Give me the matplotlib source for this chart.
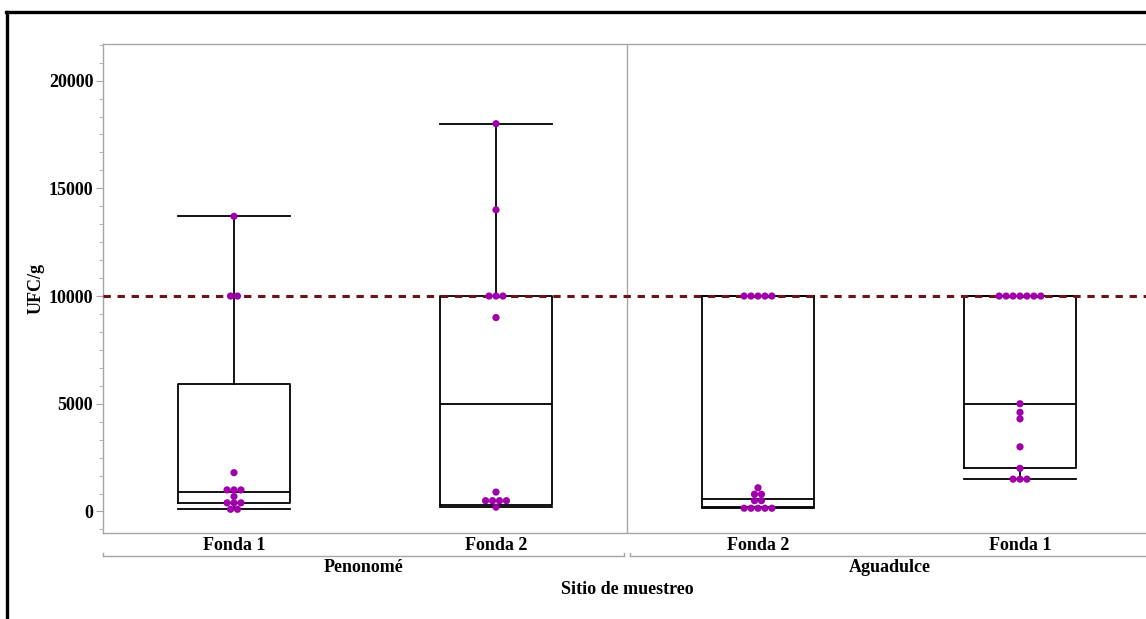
import matplotlib
matplotlib.use("Agg")
import matplotlib.pyplot as plt
from matplotlib.lines import Line2D
from matplotlib.ticker import MultipleLocator
import numpy as np

# datos (UFC/g)
sitios = ["Fonda 1", "Fonda 2", "Fonda 2", "Fonda 1"]
grupos = ["Penonomé", "Aguadulce"]
pen_f1 = [100, 100, 400, 400, 400, 700, 1000, 1000, 1000, 1800, 10000, 10000, 13700]
pen_f2 = [200, 500, 500, 500, 500, 900, 9000, 10000, 10000, 10000, 14000, 18000]
agu_f2 = [150, 150, 150, 150, 150, 500, 500, 800, 800, 1100,
          10000, 10000, 10000, 10000, 10000]
agu_f1 = [1500, 1500, 1500, 2000, 3000, 4300, 4600, 5000,
          10000, 10000, 10000, 10000, 10000, 10000, 10000]
puntos = [pen_f1, pen_f2, agu_f2, agu_f1]

# cuantiles como los dibuja el grafico original
q1 = [370, 300, 200, 2000]
mediana = [900, 5000, 600, 5000]
q3 = [5900, 10000, 10000, 10000]
bigote_inf = [130, 200, 150, 1500]
bigote_sup = [13700, 18000, 10000, 10000]
limite = 10000

plt.rcParams['font.family'] = ['Liberation Serif', 'DejaVu Serif']
plt.rcParams['font.weight'] = 'bold'

fig = plt.figure(figsize=(11.46, 6.19), dpi=100)
W, H = 1146, 619
ax = fig.add_axes([103 / W, 1 - 533 / H, (1151 - 103) / W, (533 - 44) / H])

gris = '#a6a6a6'
stats = []
for i in range(4):
    stats.append(dict(q1=q1[i], med=mediana[i], q3=q3[i],
                      whislo=bigote_inf[i], whishi=bigote_sup[i], fliers=[]))
ancho = 0.43
ax.bxp(stats, positions=range(4), widths=ancho, showfliers=False,
       capwidths=ancho, patch_artist=False,
       boxprops=dict(color='black', linewidth=1.3),
       medianprops=dict(color='black', linewidth=1.3),
       whiskerprops=dict(color='black', linewidth=1.3),
       capprops=dict(color='black', linewidth=1.3), zorder=2)

ax.axhline(limite, color='#6e1418', linewidth=2.2, linestyle=(0, (2.4, 2.2)), zorder=3)

# puntos tipo enjambre
dx = 0.0265
for i, vals in enumerate(puntos):
    vals = np.array(vals)
    for v in np.unique(vals):
        n = np.sum(vals == v)
        xs = i + (np.arange(n) - (n - 1) / 2) * dx
        ax.scatter(xs, [v] * n, s=27, color='#a000aa', edgecolor='none', zorder=4)

ax.set_xlim(-0.5, 3.5)
ax.set_ylim(-1000, 21700)
ax.axvline(1.5, color=gris, linewidth=1)
ax.yaxis.set_major_locator(MultipleLocator(5000))
ax.yaxis.set_minor_locator(MultipleLocator(5000 / 6))
ax.tick_params(axis='y', which='major', length=5, color=gris, labelsize=13, pad=2)
ax.tick_params(axis='y', which='minor', length=3, color=gris)
ax.set_xticks(range(4))
ax.set_xticklabels(sitios, fontsize=13, fontweight='bold')
ax.tick_params(axis='x', length=0, pad=3)
for s in ax.spines.values():
    s.set_color(gris)
    s.set_linewidth(1)
ax.set_ylabel('UFC/g', fontsize=13, fontweight='bold', labelpad=3)

# etiquetas de grupo debajo del eje
tr = ax.get_xaxis_transform()
alto = 533 - 44
yl = -(556 - 533) / alto
ytk = -(553 - 533) / alto
for (a, b), g in zip([(-0.5, 1.49), (1.51, 3.5)], grupos):
    ax.plot([a, b], [yl, yl], transform=tr, color=gris, linewidth=1, clip_on=False)
    ax.plot([a, a], [yl, ytk], transform=tr, color=gris, linewidth=1, clip_on=False)
    ax.plot([b, b], [yl, ytk], transform=tr, color=gris, linewidth=1, clip_on=False)
    ax.text((a + b) / 2, -(567 - 533) / alto, g, transform=tr, ha='center', va='center',
            fontsize=13, fontweight='bold')
ax.text(0.5, -(590 - 533) / alto, 'Sitio de muestreo', transform=ax.transAxes,
        ha='center', va='center', fontsize=13, fontweight='bold')

# marco negro exterior
fig.add_artist(Line2D([7 / W, 7 / W], [0, 1 - 12 / H], color='black', linewidth=2.4))
fig.add_artist(Line2D([6 / W, 1], [1 - 12 / H, 1 - 12 / H], color='black', linewidth=2.4))

fig.savefig('out.png', dpi=100)
